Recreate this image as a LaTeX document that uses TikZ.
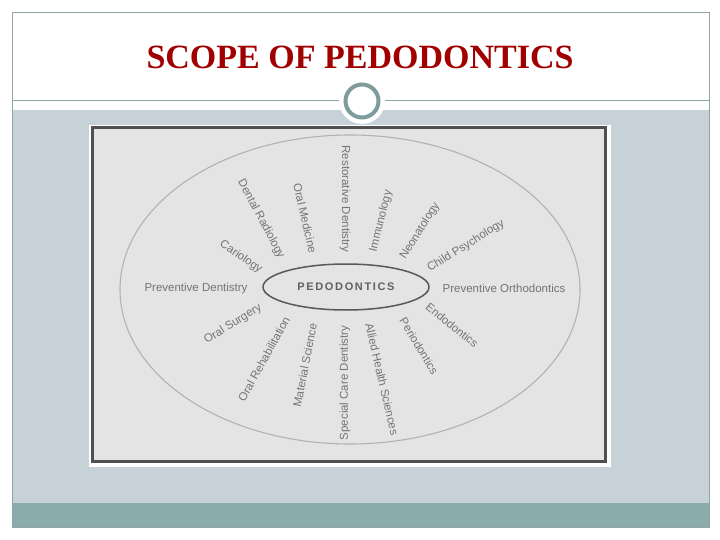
\documentclass[tikz,border=0pt]{standalone}
\usepackage{amsmath, tikz, xcolor}
\usepackage{fontspec}
\setmainfont{Liberation Serif}
\setsansfont{Liberation Sans}
\newfontfamily\pedofont[LetterSpace=15]{Liberation Sans}
\usetikzlibrary{shapes.geometric}
\definecolor{slidebg}{HTML}{C6D1D8}
\definecolor{slidebar}{HTML}{8AACAC}
\definecolor{slideline}{HTML}{8FA3A8}
\definecolor{ringcol}{HTML}{7F9C9C}
\definecolor{titlered}{HTML}{A00000}
\definecolor{scanfill}{HTML}{E4E4E4}
\definecolor{scanframe}{HTML}{505050}
\definecolor{inkgrey}{HTML}{747474}

\begin{document}
\begin{tikzpicture}[x=1pt, y=-1pt,
    topic/.style={font=\sffamily\fontsize{11.5}{12}\selectfont, text=inkgrey, inner sep=0pt}]
    \useasboundingbox (0,0) rectangle (720,540);
    \fill[slidebg] (12,110) rectangle (709,503);
    \fill[slidebar] (12,503) rectangle (709,527);
    \draw[slideline, line width=0.8pt] (12,12) rectangle (709,527);
    \draw[slideline, line width=0.8pt] (12,100) -- (709,100);
    \node (halo) [circle, fill=white, minimum size=46pt, inner sep=0pt] at (362,101) {};
    \node (ring) [circle, draw=ringcol, line width=4pt, fill=white, minimum size=33pt, inner sep=0pt] at (362,101) {};
    \node (title) [text=titlered, font=\bfseries\fontsize{34}{38}\selectfont] at (360,57) {SCOPE OF PEDODONTICS};

    \fill[white] (89,125) rectangle (611,467);
    \fill[scanfill] (92,128) rectangle (605,461);
    \draw[scanframe, line width=3pt] (92,128) rectangle (605,461);
    \draw[gray!60, line width=1.1pt] (350,289.5) ellipse [x radius=230, y radius=154.5];
    \node (pedo) [ellipse, draw=gray!70!black, line width=1.5pt, minimum width=166pt, minimum height=46pt,
        font=\pedofont\bfseries\fontsize{11}{12}\selectfont, text=gray!75!black] at (346,287) {PEDODONTICS};

    \node (prevdent) [topic] at (196,289) {Preventive Dentistry};
    \node (cario) [topic, rotate=-34] at (241,257) {Cariology};
    \node (dentrad) [topic, rotate=-62] at (261,219) {Dental Radiology};
    \node (oralmed) [topic, rotate=-77] at (305,218) {Oral Medicine};
    \node (restdent) [topic, rotate=-90] at (345,199) {Restorative Dentistry};
    \node (immuno) [topic, rotate=76] at (381,221) {Immunology};
    \node (neonat) [topic, rotate=58] at (420,231) {Neonatology};
    \node (childpsy) [topic, rotate=32] at (466,246) {Child Psychology};
    \node (prevortho) [topic] at (504,288) {Preventive Orthodontics};
    \node (endo) [topic, rotate=-39] at (452,325) {Endodontics};
    \node (perio) [topic, rotate=-59] at (419,346) {Periodontics};
    \node (allied) [topic, rotate=-77] at (382,379) {Allied Health Sciences};
    \node (specare) [topic, rotate=90] at (345,383) {Special Care Dentistry};
    \node (matsci) [topic, rotate=79] at (305,365) {Material Science};
    \node (oralrehab) [topic, rotate=61] at (264,359) {Oral Rehabilitation};
    \node (oralsurg) [topic, rotate=32] at (233,324) {Oral Surgery};
\end{tikzpicture}
\end{document}
